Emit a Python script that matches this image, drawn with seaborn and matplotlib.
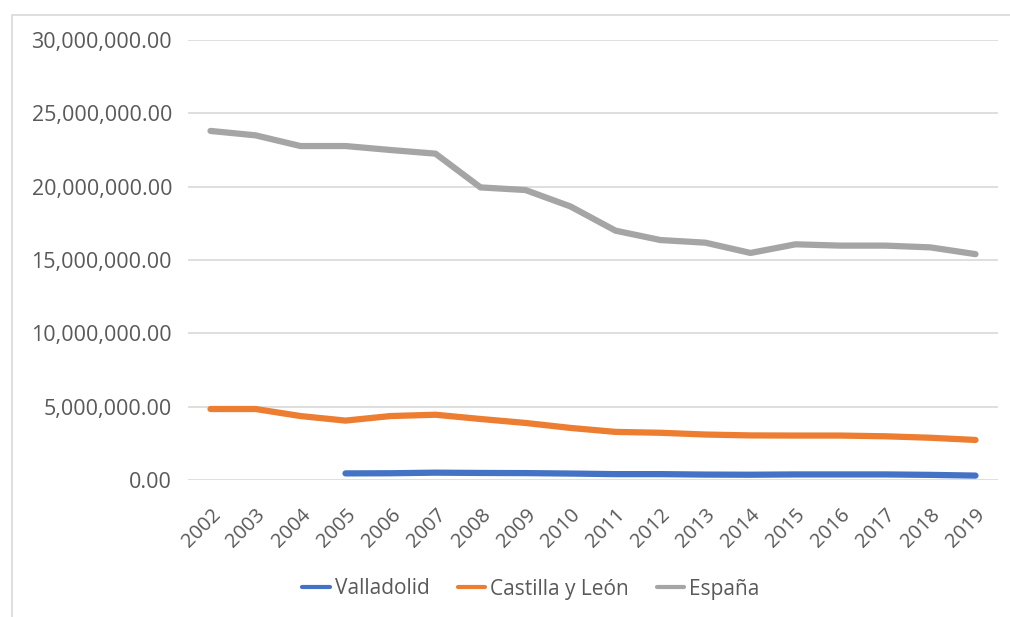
import matplotlib
matplotlib.use("Agg")
import matplotlib.pyplot as plt
import seaborn as sns
import pandas as pd
import numpy as np
from matplotlib.patches import Rectangle

# Data
years = [str(y) for y in range(2002, 2020)]
valladolid = [np.nan, np.nan, np.nan, 0.45e6, 0.46e6, 0.50e6, 0.48e6, 0.47e6, 0.44e6,
              0.40e6, 0.40e6, 0.37e6, 0.36e6, 0.38e6, 0.38e6, 0.38e6, 0.35e6, 0.30e6]
castilla = [4.84e6, 4.84e6, 4.36e6, 4.05e6, 4.36e6, 4.45e6, 4.16e6, 3.89e6, 3.55e6,
            3.28e6, 3.22e6, 3.10e6, 3.04e6, 3.03e6, 3.03e6, 2.98e6, 2.88e6, 2.73e6]
espana = [23.8e6, 23.5e6, 22.77e6, 22.77e6, 22.5e6, 22.25e6, 19.95e6, 19.77e6, 18.65e6,
          17.0e6, 16.36e6, 16.18e6, 15.48e6, 16.07e6, 15.98e6, 15.98e6, 15.86e6, 15.4e6]
series_names = ["Valladolid", "Castilla y León", "España"]
colors = ["#4472C4", "#ED7D31", "#A5A5A5"]

df = pd.DataFrame({"year": years, "Valladolid": valladolid,
                   "Castilla y León": castilla, "España": espana})
long = df.melt(id_vars="year", var_name="serie", value_name="valor")

sns.set_theme(style="white")
plt.rcParams['font.family'] = ['Open Sans', 'DejaVu Sans']

fig = plt.figure(figsize=(10.10, 6.17), dpi=100)
ax = fig.add_axes([188 / 1010, 1 - 480 / 617, (998 - 188) / 1010, (480 - 40) / 617])

sns.lineplot(data=long, x="year", y="valor", hue="serie", hue_order=series_names,
             palette=colors, linewidth=4.5, ax=ax, sort=False, legend=True)

ax.set_xlim(-0.5, len(years) - 0.5)
ax.set_ylim(0, 30e6)
ax.set_yticks(np.arange(0, 30e6 + 1, 5e6))
ax.yaxis.set_major_formatter(matplotlib.ticker.FuncFormatter(lambda v, p: f"{v:,.2f}"))
ax.grid(axis="y", color="#D9D9D9", linewidth=1.2)
ax.set_axisbelow(True)
for s in ax.spines.values():
    s.set_visible(False)
ax.set_xlabel("")
ax.set_ylabel("")
ax.tick_params(axis="y", colors="#595959", labelsize=15.5, length=0, pad=11.5)
ax.tick_params(axis="x", colors="#595959", labelsize=14.5, length=0, pad=18)
plt.setp(ax.get_xticklabels(), rotation=45, ha="right", rotation_mode="anchor")

leg = ax.legend(loc="center", bbox_to_anchor=(531 / 1010, 1 - 589 / 617),
                bbox_transform=fig.transFigure, ncol=3, frameon=False,
                fontsize=15, handlelength=1.3, handletextpad=0.25, columnspacing=1.35)
for t in leg.get_texts():
    t.set_color("#595959")
for h in leg.get_lines():
    h.set_linewidth(3)

# light chart border like the spreadsheet frame
fig.patches.append(Rectangle((12 / 1010, -0.05), 1.1, 1 - 15 / 617 + 0.05,
                             transform=fig.transFigure, fill=False,
                             edgecolor="#D9D9D9", linewidth=1.2))

fig.savefig("out.png", dpi=100)
